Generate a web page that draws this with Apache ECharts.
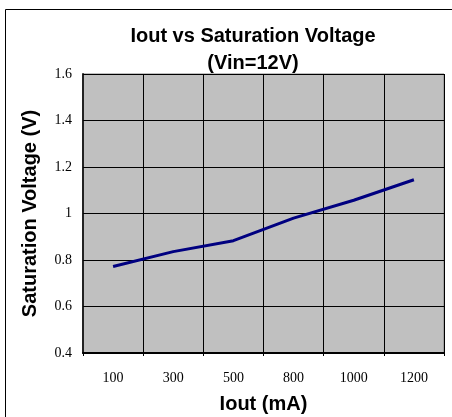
<!DOCTYPE html>
<html>
<head>
<meta charset="utf-8">
<script src="https://cdn.jsdelivr.net/npm/echarts@6/dist/echarts.min.js"></script>
<style>
html, body { margin: 0; padding: 0; background: #fff; }
#chart { width: 452px; height: 417px; }
</style>
</head>
<body>
<div id="chart"></div>
<script>
// Iout (mA) categories
var ioutLabels = ['100', '300', '500', '800', '1000', '1200'];
// saturation voltage
var satVoltage = [0.772, 0.836, 0.883, 0.980, 1.057, 1.145];

var chart = echarts.init(document.getElementById('chart'));
var opt = {
    backgroundColor: '#fff',
    animation: false,
    title: {
        text: 'Iout vs Saturation Voltage\n(Vin=12V)',
        left: 248,
        top: 18,
        textAlign: 'center',
        textStyle: {
            fontFamily: 'Liberation Sans',
            fontWeight: 'bold',
            fontSize: 20,
            lineHeight: 27,
            color: '#000'
        }
    },
    graphic: [{
        // outer chart frame
        type: 'rect',
        shape: { x: 5.5, y: 9.5, width: 500, height: 500 },
        style: { fill: null, stroke: '#000', lineWidth: 1 },
        z: 0
    }],
    grid: {
        left: 83,
        right: 8,
        top: 74,
        bottom: 64,
        show: true,
        backgroundColor: '#c0c0c0',
        borderColor: '#808080',
        borderWidth: 1,
        outerBoundsMode: 'none'
    },
    xAxis: {
        type: 'category',
        data: ioutLabels,
        boundaryGap: true,
        name: 'Iout (mA)',
        nameLocation: 'middle',
        nameGap: 41,
        nameTextStyle: {
            fontFamily: 'Liberation Sans',
            fontWeight: 'bold',
            fontSize: 20,
            color: '#000'
        },
        axisLine: { lineStyle: { color: '#000', width: 2 } },
        axisTick: { show: true, length: 3, lineStyle: { color: '#000' } },
        axisLabel: {
            margin: 18,
            fontFamily: 'Liberation Serif',
            fontSize: 14,
            color: '#000'
        },
        splitLine: { show: true, lineStyle: { color: '#000', width: 1 } }
    },
    yAxis: {
        type: 'value',
        min: 0.4,
        max: 1.6,
        interval: 0.2,
        name: 'Saturation Voltage (V)',
        nameLocation: 'middle',
        nameGap: 43,
        nameTextStyle: {
            fontFamily: 'Liberation Sans',
            fontWeight: 'bold',
            fontSize: 20,
            color: '#000'
        },
        axisLine: { show: true, lineStyle: { color: '#222', width: 2 } },
        axisTick: { show: true, inside: true, length: 4, lineStyle: { color: '#000' } },
        axisLabel: {
            margin: 11,
            fontFamily: 'Liberation Serif',
            fontSize: 14,
            color: '#000',
            formatter: function (v) { return String(+v.toFixed(1)); }
        },
        splitLine: { show: true, lineStyle: { color: '#000', width: 1 } }
    },
    series: [{
        type: 'line',
        data: satVoltage,
        symbol: 'none',
        lineStyle: { color: '#000080', width: 3 },
        z: 5
    }]
};
chart.setOption(opt);
</script>
</body>
</html>
